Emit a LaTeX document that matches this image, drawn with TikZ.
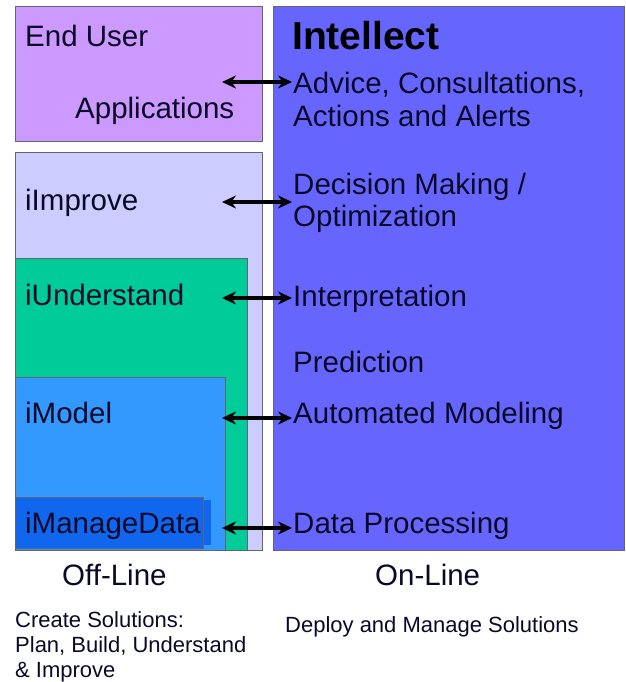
\documentclass[tikz,border=0pt]{standalone}
\usepackage{fontspec}
\setmainfont{Liberation Sans}
\usetikzlibrary{arrows.meta}
\definecolor{cEnd}{RGB}{204,153,255}
\definecolor{cImp}{RGB}{204,204,255}
\definecolor{cUnd}{RGB}{0,204,153}
\definecolor{cMod}{RGB}{51,153,255}
\definecolor{cMan}{RGB}{17,102,238}
\definecolor{cInt}{RGB}{102,102,255}
\definecolor{cBord}{RGB}{100,100,110}
\definecolor{cTxt}{RGB}{10,10,40}
\tikzset{
  box/.style={draw=cBord, line width=1pt},
  lbl/.style={anchor=base west, inner sep=0pt, text=cTxt, font=\fontsize{29.5}{34}\selectfont},
  ttl/.style={anchor=base west, inner sep=0pt, text=black, font=\fontsize{39}{44}\selectfont\bfseries},
  small/.style={anchor=base west, inner sep=0pt, text=cTxt, font=\fontsize{22}{25}\selectfont},
  link/.style={{Stealth[length=14pt,width=13pt]}-{Stealth[length=14pt,width=13pt]}, line width=4pt},
}
\begin{document}
\begin{tikzpicture}[x=1pt,y=-1pt]
\useasboundingbox[fill=white] (0,0) rectangle (625,682);
% boxes
\draw[box, fill=cEnd] (15,7) rectangle (262,141);
\draw[box, fill=cImp] (15,152) rectangle (262,550);
\draw[box, fill=cUnd] (15,258) rectangle (247,550);
\draw[box, fill=cMod] (15,377) rectangle (225,550);
\fill[cMan] (200,500) rectangle (211,545);
\draw[box, fill=cMan] (15,497) rectangle (203,548);
\draw[box, fill=cInt] (273,7) rectangle (624,550);
% left labels
\node[lbl] (enduser) at (25,47) {End User};
\node[lbl] (apps) at (75,118) {Applications};
\node[lbl] (improve) at (25,210) {iImprove};
\node[lbl] (understand) at (25,305) {iUnderstand};
\node[lbl] (model) at (25,423) {iModel};
\node[lbl] (manage) at (25,533) {iManageData};
% right labels
\node[ttl] (intellect) at (292,50) {Intellect};
\node[lbl] (advice) at (293,94) {Advice, Consultations,};
\node[lbl] (actions) at (293,127) {Actions and Alerts};
\node[lbl] (decision) at (293,194) {Decision Making /};
\node[lbl] (optim) at (293,226) {Optimization};
\node[lbl] (interp) at (293,306) {Interpretation};
\node[lbl] (predict) at (293,372) {Prediction};
\node[lbl] (automod) at (293,423) {Automated Modeling};
\node[lbl] (dataproc) at (293,533) {Data Processing};
% bottom
\node[lbl] (offline) at (62,585) {Off-Line};
\node[lbl] (online) at (375,585) {On-Line};
\node[small] (create1) at (15,627) {Create Solutions:};
\node[small] (create2) at (15,652) {Plan, Build, Understand};
\node[small] (create3) at (15,677) {\& Improve};
\node[small] (deploy) at (285,632) {Deploy and Manage Solutions};
% arrow endpoints
\coordinate (a1l) at (222,82);  \coordinate (a1r) at (292,82);
\coordinate (a2l) at (222,202); \coordinate (a2r) at (292,202);
\coordinate (a3l) at (222,298); \coordinate (a3r) at (292,298);
\coordinate (a4l) at (222,418); \coordinate (a4r) at (292,418);
\coordinate (a5l) at (222,528); \coordinate (a5r) at (292,528);
\draw[link] (a1l) -- (a1r);
\draw[link] (a2l) -- (a2r);
\draw[link] (a3l) -- (a3r);
\draw[link] (a4l) -- (a4r);
\draw[link] (a5l) -- (a5r);
\end{tikzpicture}
\end{document}
